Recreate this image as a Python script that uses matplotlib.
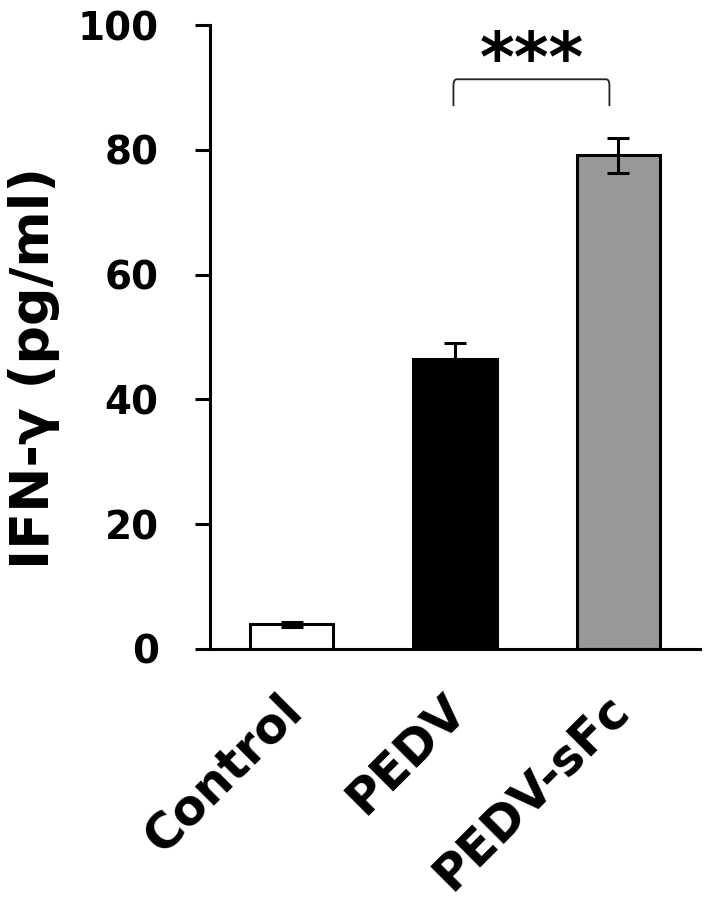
import matplotlib.pyplot as plt
import matplotlib.transforms as mtransforms
from matplotlib.path import Path
from matplotlib.patches import PathPatch

plt.rcParams['font.family'] = ['DejaVu Sans']
plt.rcParams['font.weight'] = 'bold'

# Data
groups = ["Control", "PEDV", "PEDV-sFc"]
means = [4.0, 46.5, 79.1]
errors = [0.4, 2.5, 2.8]
colors = ["white", "black", "#989898"]

fig = plt.figure(figsize=(7.05, 9.06), dpi=100)
ax = fig.add_axes([0.298, 0.2837, 0.695, 0.6887])

x = range(len(groups))
ax.bar(x, means, width=0.51, color=colors, edgecolor="black", linewidth=2.2, zorder=2)
ax.errorbar(x, means, yerr=errors, fmt="none", ecolor="black", elinewidth=2.2,
            capsize=8, capthick=2.2, zorder=3)

ax.set_xlim(-0.5, 2.5)
ax.set_ylim(0, 100)
ax.set_yticks([0, 20, 40, 60, 80, 100])
ax.set_xticks(list(x))
ax.set_xticklabels(groups, rotation=45, ha="right", rotation_mode="anchor",
                   fontsize=35, fontweight="bold")
ax.tick_params(axis="y", direction="out", length=11, width=2.2, labelsize=28, pad=26)
ax.tick_params(axis="x", length=0, pad=26)
for lab in ax.get_yticklabels():
    lab.set_fontweight("bold")
# nudge rotated labels a little to the left
shift = mtransforms.ScaledTranslation(-0.14, 0, fig.dpi_scale_trans)
for lab in ax.get_xticklabels():
    lab.set_transform(lab.get_transform() + shift)

for s in ["top", "right"]:
    ax.spines[s].set_visible(False)
ax.spines["left"].set_linewidth(2.2)
ax.spines["bottom"].set_linewidth(2.2)

fig.text(34 / 705, 1 - 368 / 906, "IFN-γ (pg/ml)", rotation=90, ha="center",
         va="center", fontsize=39, fontweight="bold")

# significance bracket
x1, x2, ytop, ybot = 0.99, 1.945, 91.3, 87.0
verts = [(x1, ybot), (x1, ytop - 1), (x1, ytop), (x1 + 0.02, ytop),
         (x2 - 0.02, ytop), (x2, ytop), (x2, ytop - 1), (x2, ybot)]
codes = [Path.MOVETO, Path.LINETO, Path.CURVE3, Path.CURVE3,
         Path.LINETO, Path.CURVE3, Path.CURVE3, Path.LINETO]
ax.add_patch(PathPatch(Path(verts, codes), fill=False, edgecolor="#222222",
                       linewidth=1.3, clip_on=False))
ax.text((x1 + x2) / 2, 91.0, "***", ha="center", va="baseline", fontsize=48,
        fontweight="bold", clip_on=False)

plt.savefig("out.png", dpi=100)
